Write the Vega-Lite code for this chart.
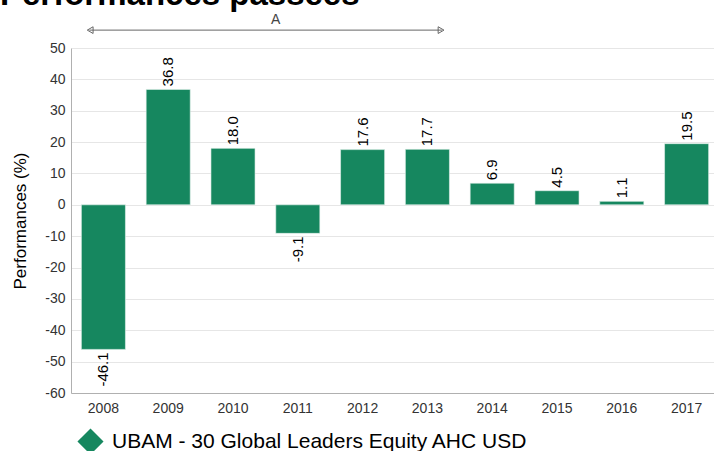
{
  "$schema": "https://vega.github.io/schema/vega-lite/v6.json",
  "width": 648,
  "height": 345,
  "autosize": {"type": "none"},
  "padding": {"left": 71, "top": 48, "right": 0, "bottom": 58},
  "background": "white",
  "config": {
    "font": "Liberation Sans",
    "view": {"stroke": null},
    "axisY": {
      "titleFontSize": 17, "titleFontWeight": "normal", "titleColor": "#000000", "titlePadding": 15,
      "labelOverlap": false, "labelFlush": false, "labelFontSize": 14, "labelColor": "#333333",
      "ticks": false, "labelPadding": 6, "domainColor": "#b0b0b0", "gridColor": "#e6e6e6"
    },
    "locale": {"number": {"decimal": ".", "thousands": ",", "grouping": [3], "currency": ["", ""], "minus": "-"}}
  },
  "title": {
    "text": "Performances passées",
    "fontSize": 33,
    "fontWeight": "bold",
    "font": "Liberation Sans",
    "color": "#000000",
    "anchor": "start",
    "frame": "group",
    "baseline": "alphabetic",
    "offset": 0,
    "dy": 25,
    "dx": -71
  },
  "datasets": {
    "perf": [
      {"year": "2008", "value": -46.1, "series": "UBAM - 30 Global Leaders Equity AHC USD"},
      {"year": "2009", "value": 36.8, "series": "UBAM - 30 Global Leaders Equity AHC USD"},
      {"year": "2010", "value": 18.0, "series": "UBAM - 30 Global Leaders Equity AHC USD"},
      {"year": "2011", "value": -9.1, "series": "UBAM - 30 Global Leaders Equity AHC USD"},
      {"year": "2012", "value": 17.6, "series": "UBAM - 30 Global Leaders Equity AHC USD"},
      {"year": "2013", "value": 17.7, "series": "UBAM - 30 Global Leaders Equity AHC USD"},
      {"year": "2014", "value": 6.9, "series": "UBAM - 30 Global Leaders Equity AHC USD"},
      {"year": "2015", "value": 4.5, "series": "UBAM - 30 Global Leaders Equity AHC USD"},
      {"year": "2016", "value": 1.1, "series": "UBAM - 30 Global Leaders Equity AHC USD"},
      {"year": "2017", "value": 19.5, "series": "UBAM - 30 Global Leaders Equity AHC USD"}
    ],
    "annot": [
      {"start": "2008", "end": "2013", "mid": "2011", "label": "A", "lineLevel": 55.7, "textLevel": 58.9}
    ]
  },
  "layer": [
    {
      "data": {"name": "perf"},
      "mark": {"type": "bar", "stroke": "#e8f3ee", "strokeWidth": 0.6},
      "encoding": {
        "x": {
          "field": "year", "type": "ordinal",
          "scale": {"paddingInner": 0.32, "paddingOuter": 0.16},
          "axis": {
            "title": null, "labelAngle": 0, "labelFontSize": 14, "labelColor": "#333333",
            "ticks": false, "domainColor": "#b0b0b0", "labelPadding": 8
          }
        },
        "y": {
          "field": "value", "type": "quantitative",
          "scale": {"domain": [-60, 50], "nice": false},
          "axis": {"title": "Performances (%)", "values": [-60, -50, -40, -30, -20, -10, 0, 10, 20, 30, 40, 50]}
        },
        "color": {
          "field": "series", "type": "nominal",
          "scale": {"range": ["#16875f"]},
          "legend": {
            "title": null, "orient": "none", "legendX": 6, "legendY": 380,
            "symbolType": "diamond", "symbolSize": 680, "symbolStrokeWidth": 0,
            "labelFontSize": 21, "labelColor": "#000000", "labelLimit": 700, "labelOffset": 8
          }
        }
      }
    },
    {
      "data": {"name": "perf"},
      "transform": [{"filter": "datum.value >= 0"}],
      "mark": {"type": "text", "angle": -90, "align": "left", "baseline": "middle", "dx": 3, "fontSize": 15, "color": "#000000"},
      "encoding": {
        "x": {"field": "year", "type": "ordinal"},
        "y": {"field": "value", "type": "quantitative", "axis": {"title": "Performances (%)", "values": [-60, -50, -40, -30, -20, -10, 0, 10, 20, 30, 40, 50]}},
        "text": {"field": "value", "type": "quantitative", "format": ".1f"}
      }
    },
    {
      "data": {"name": "perf"},
      "transform": [{"filter": "datum.value < 0"}],
      "mark": {"type": "text", "angle": -90, "align": "right", "baseline": "middle", "dx": -3, "fontSize": 15, "color": "#000000"},
      "encoding": {
        "x": {"field": "year", "type": "ordinal"},
        "y": {"field": "value", "type": "quantitative", "axis": {"title": "Performances (%)", "values": [-60, -50, -40, -30, -20, -10, 0, 10, 20, 30, 40, 50]}},
        "text": {"field": "value", "type": "quantitative", "format": ".1f"}
      }
    },
    {
      "data": {"name": "annot"},
      "mark": {"type": "rule", "color": "#666666", "strokeWidth": 1},
      "encoding": {
        "x": {"field": "start", "type": "ordinal", "bandPosition": 0.18},
        "x2": {"field": "end", "bandPosition": 0.83},
        "y": {"field": "lineLevel", "type": "quantitative", "axis": {"title": "Performances (%)", "values": [-60, -50, -40, -30, -20, -10, 0, 10, 20, 30, 40, 50]}}
      }
    },
    {
      "data": {"name": "annot"},
      "mark": {"type": "point", "shape": "triangle-left", "filled": false, "color": "#666666", "size": 45, "strokeWidth": 1, "opacity": 1},
      "encoding": {
        "x": {"field": "start", "type": "ordinal", "bandPosition": 0.2},
        "y": {"field": "lineLevel", "type": "quantitative", "axis": {"title": "Performances (%)", "values": [-60, -50, -40, -30, -20, -10, 0, 10, 20, 30, 40, 50]}}
      }
    },
    {
      "data": {"name": "annot"},
      "mark": {"type": "point", "shape": "triangle-right", "filled": false, "color": "#666666", "size": 45, "strokeWidth": 1, "opacity": 1},
      "encoding": {
        "x": {"field": "end", "type": "ordinal", "bandPosition": 0.81},
        "y": {"field": "lineLevel", "type": "quantitative", "axis": {"title": "Performances (%)", "values": [-60, -50, -40, -30, -20, -10, 0, 10, 20, 30, 40, 50]}}
      }
    },
    {
      "data": {"name": "annot"},
      "mark": {"type": "text", "fontSize": 14, "color": "#444444", "baseline": "middle", "align": "center"},
      "encoding": {
        "x": {"field": "mid", "type": "ordinal", "bandPosition": 0},
        "y": {"field": "textLevel", "type": "quantitative", "axis": {"title": "Performances (%)", "values": [-60, -50, -40, -30, -20, -10, 0, 10, 20, 30, 40, 50]}},
        "text": {"field": "label"}
      }
    }
  ]
}
